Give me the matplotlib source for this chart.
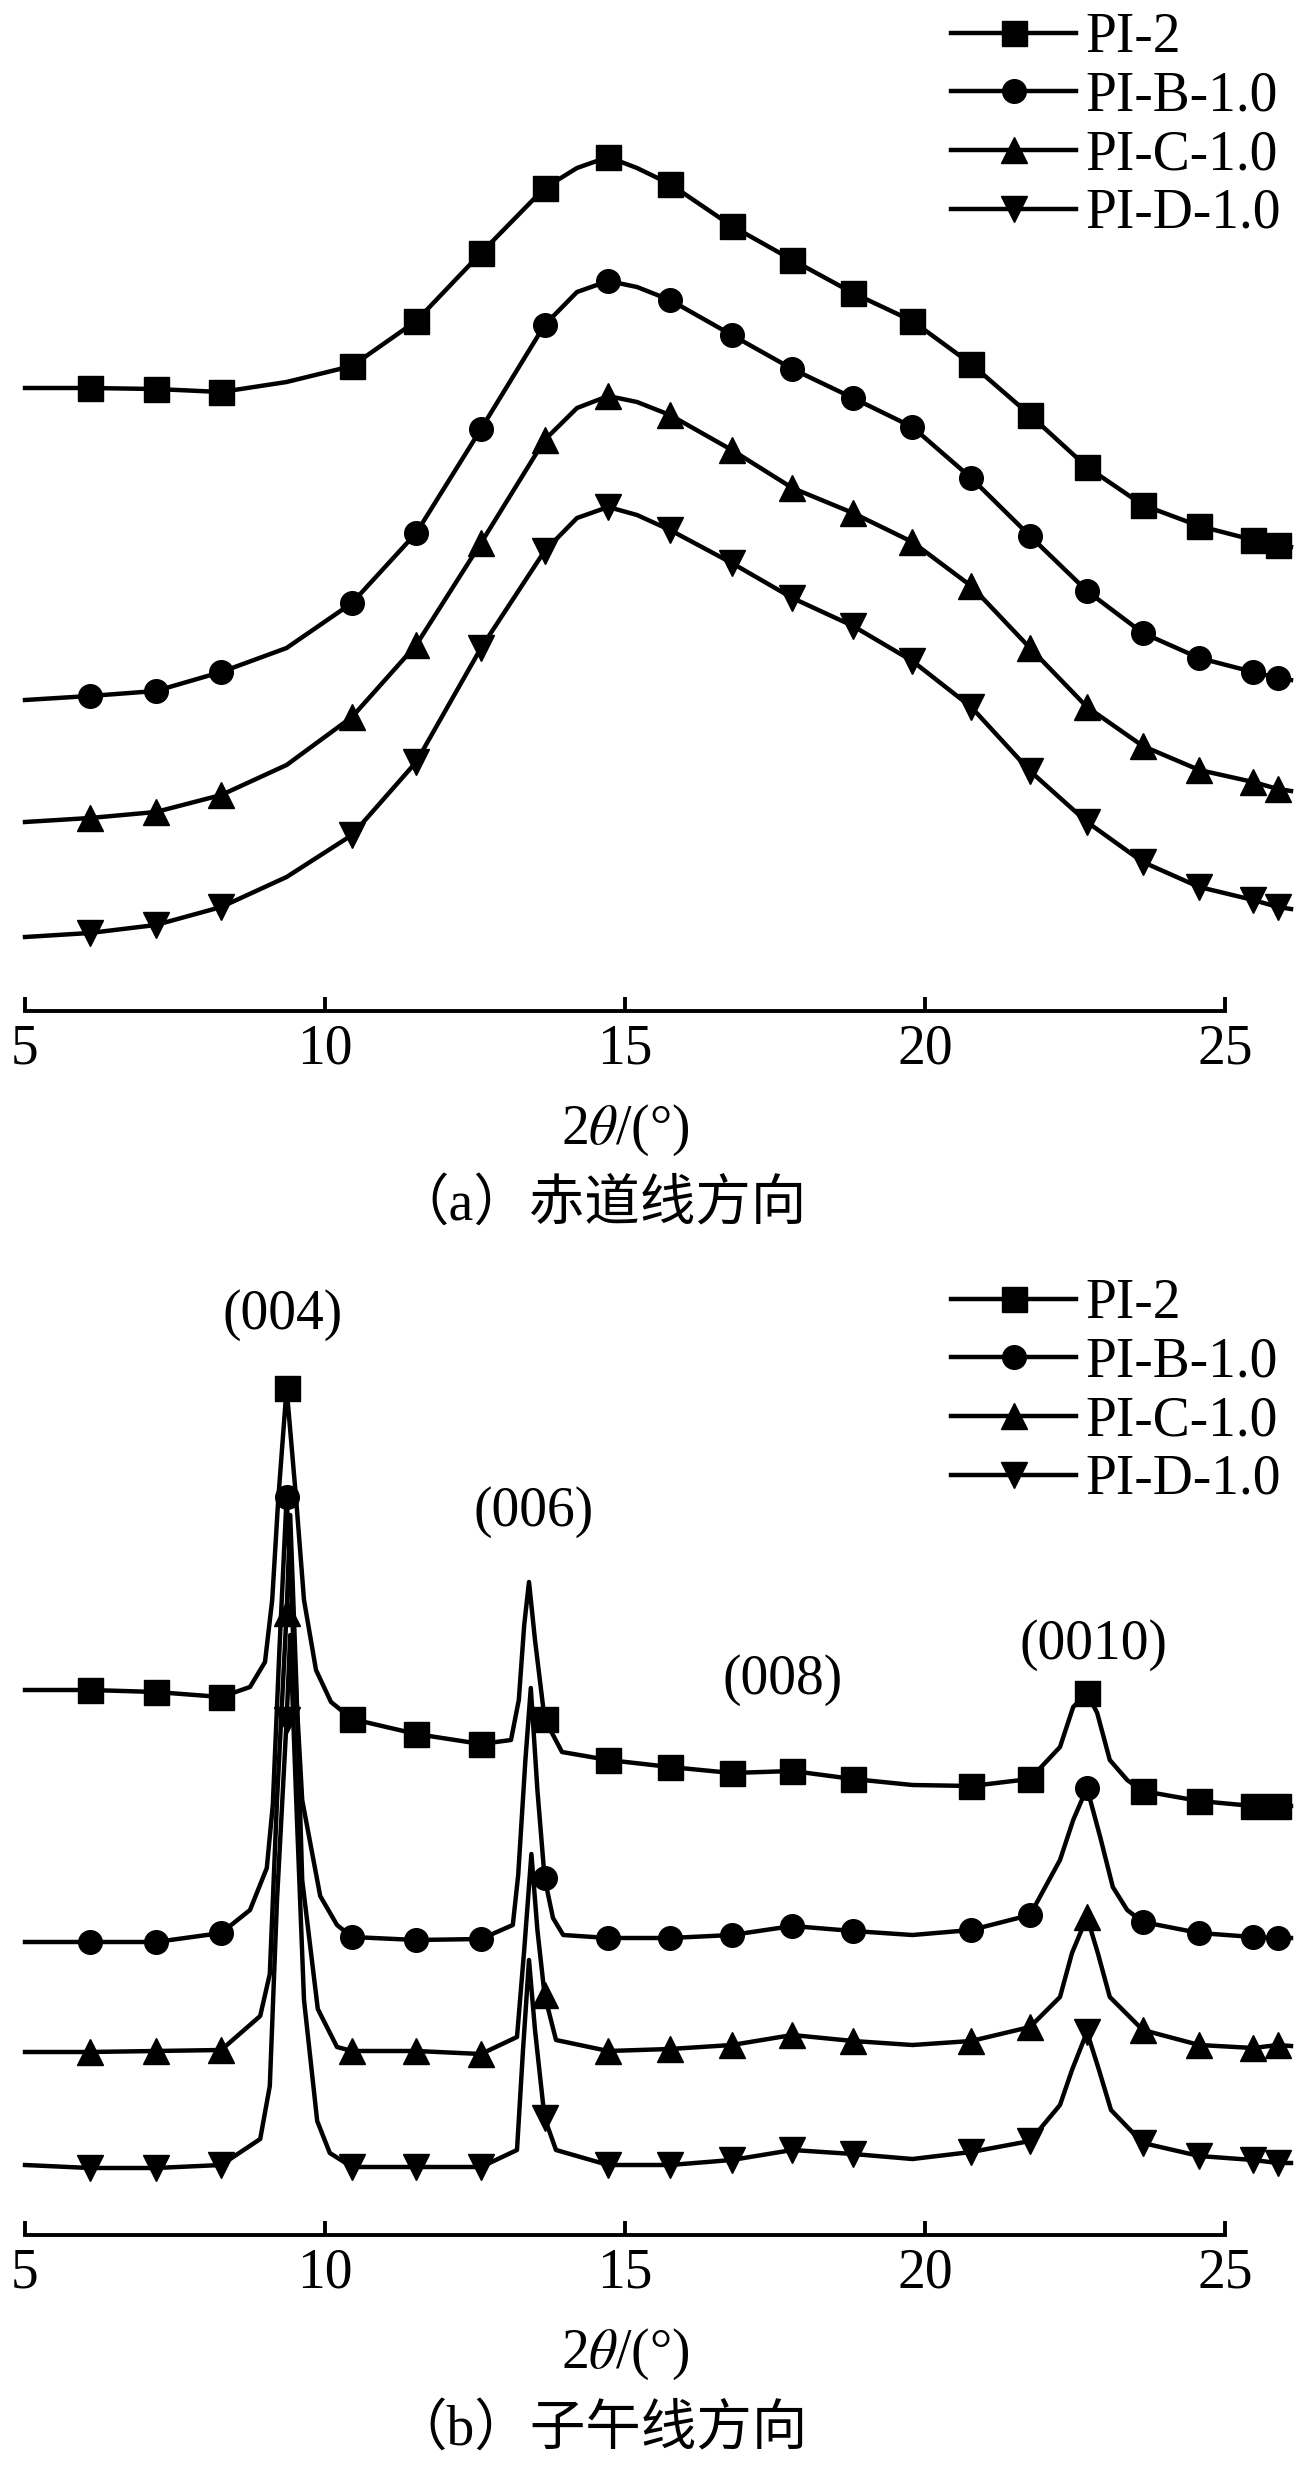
import matplotlib
matplotlib.use('Agg')
import matplotlib.pyplot as plt

plt.rcParams['font.family'] = ['Liberation Serif', 'Noto Sans CJK SC']
plt.rcParams['mathtext.fontset'] = 'stix'

labels = ['PI-2', 'PI-B-1.0', 'PI-C-1.0', 'PI-D-1.0']
markers = ['s', 'o', '^', 'v']
msizes = [18, 17, 19, 19]

# 2theta positions of the symbols
mk = [6.08, 7.18, 8.27, 9.36, 10.45, 11.52, 12.6, 13.66, 14.72, 15.75, 16.78,
      17.79, 18.8, 19.79, 20.77, 21.75, 22.7, 23.63, 24.57, 25.47, 25.88]
mk_a = [m for m in mk if m != 9.36]
mk_b = [m for m in mk if m != 19.79]

# (a) equatorial direction, stacked intensity (a.u.)
x_a = [5.0, 6.08, 7.18, 8.27, 9.36, 10.45, 11.52, 12.6, 13.66, 14.2, 14.72, 15.2,
       15.75, 16.78, 17.79, 18.8, 19.79, 20.77, 21.75, 22.7, 23.63, 24.57, 25.47,
       25.88, 26.1]
pi2_a = [623, 623, 622, 619, 629, 645, 690, 758, 823, 843, 854, 843, 827, 785, 751,
         718, 690, 647, 596, 544, 506, 485, 471, 466, 464]
pib_a = [311, 315, 320, 339, 363, 408, 478, 582, 686, 719, 730, 724, 711, 676, 642,
         613, 584, 533, 475, 420, 378, 353, 339, 333, 331]
pic_a = [189, 193, 199, 216, 246, 294, 366, 468, 571, 603, 615, 609, 596, 561, 523,
         498, 469, 425, 363, 304, 265, 241, 229, 222, 220]
pid_a = [74, 78, 86, 104, 134, 176, 249, 363, 460, 493, 504, 496, 481, 448, 413,
         385, 350, 304, 240, 189, 149, 124, 111, 104, 102]

# (b) meridional direction
x_pi2_b = [5.0, 6.08, 7.18, 8.27, 8.75, 9.0, 9.12, 9.22, 9.36, 9.52, 9.65, 9.85, 10.1,
           10.45, 11.52, 12.6, 13.1, 13.23, 13.32, 13.4, 13.5, 13.66, 13.95, 14.72,
           15.75, 16.78, 17.79, 18.8, 19.79, 20.77, 21.75, 22.25, 22.47, 22.7, 22.87,
           23.08, 23.37, 23.63, 24.57, 25.47, 25.88, 26.1]
pi2_b = [545, 545, 543, 538, 548, 573, 635, 735, 847, 735, 635, 565, 533, 516, 501,
         491, 495, 535, 610, 653, 595, 516, 483, 475, 468, 462, 464, 456, 450, 449,
         456, 488, 528, 542, 522, 475, 455, 444, 434, 429, 429, 429]

x_pib_b = [5.0, 6.08, 7.18, 8.27, 8.75, 9.03, 9.13, 9.24, 9.36, 9.48, 9.62, 9.92, 10.2,
           10.45, 11.52, 12.6, 13.13, 13.22, 13.34, 13.43, 13.54, 13.66, 13.8, 13.97,
           14.72, 15.75, 16.78, 17.79, 18.8, 19.79, 20.77, 21.75, 22.25, 22.47, 22.7,
           22.92, 23.13, 23.37, 23.63, 24.57, 25.47, 25.88, 26.1]
pib_b = [293, 293, 293, 302, 325, 367, 430, 585, 738, 585, 435, 339, 310, 298, 295,
         296, 310, 360, 475, 547, 445, 357, 317, 300, 297, 297, 300, 309, 304, 300,
         305, 320, 375, 415, 447, 398, 348, 325, 313, 302, 298, 297, 297]

x_pic_b = [5.0, 6.08, 7.18, 8.27, 8.92, 9.08, 9.2, 9.36, 9.42, 9.52, 9.62, 9.88, 10.2,
           10.45, 11.52, 12.6, 13.2, 13.32, 13.44, 13.54, 13.66, 13.85, 14.72, 15.75,
           16.78, 17.79, 18.8, 19.79, 20.77, 21.75, 22.25, 22.45, 22.7, 22.88, 23.08,
           23.63, 24.57, 25.47, 25.88, 26.1]
pic_b = [183, 183, 184, 185, 219, 261, 435, 622, 720, 555, 355, 226, 188, 184, 184,
         181, 198, 285, 381, 305, 240, 195, 184, 186, 190, 200, 194, 190, 194, 208,
         238, 282, 318, 282, 238, 205, 190, 187, 190, 189]

x_pid_b = [5.0, 6.08, 7.18, 8.27, 8.92, 9.08, 9.2, 9.36, 9.42, 9.52, 9.65, 9.87, 10.08,
           10.45, 11.52, 12.6, 13.2, 13.3, 13.4, 13.5, 13.66, 13.85, 14.72, 15.75,
           16.78, 17.79, 18.8, 19.79, 20.77, 21.75, 22.25, 22.45, 22.7, 22.9, 23.1,
           23.63, 24.57, 25.47, 25.88, 26.1]
pid_b = [70, 67, 67, 70, 96, 149, 335, 515, 600, 435, 235, 114, 82, 68, 68, 68, 85,
         185, 275, 205, 117, 85, 70, 70, 75, 85, 81, 76, 83, 94, 130, 165, 203, 165,
         125, 92, 79, 75, 72, 72]

peaks = ['(004)', '(006)', '(008)', '(0010)']
peak_x = [9.3, 13.47, 17.63, 22.8]
peak_y = [920, 723, 555, 590]

W, H = 1300, 2470
fig = plt.figure(figsize=(W / 100, H / 100), dpi=100)

ax1 = fig.add_axes([25 / W, 1 - 1011 / H, 1275 / W, 1011 / H])
ax2 = fig.add_axes([25 / W, 1 - 2235 / H, 1275 / W, 1000 / H])


def style(ax, ymax):
    ax.set_xlim(5, 26.25)
    ax.set_ylim(0, ymax)
    for s in ['top', 'right', 'left']:
        ax.spines[s].set_visible(False)
    ax.spines['bottom'].set_linewidth(2.8)
    ax.spines['bottom'].set_bounds(5, 25)
    ax.set_xticks([5, 10, 15, 20, 25])
    ax.set_yticks([])
    ax.tick_params(axis='x', direction='in', length=10, width=2.8, pad=9,
                   labelsize=40)
    ax.set_xlabel(r'2$\theta$/(°)', fontsize=40, va='center')
    ax.xaxis.set_label_coords(10 / 21.25, -119 / (ymax))
    ax.patch.set_visible(False)


series_a = [pi2_a, pib_a, pic_a, pid_a]
for i in range(4):
    idx = [x_a.index(m) for m in mk_a]
    ax1.plot(x_a, series_a[i], color='black', lw=3.2, marker=markers[i],
             ms=msizes[i], markevery=idx, label=labels[i], clip_on=False)

series_b = [(x_pi2_b, pi2_b), (x_pib_b, pib_b), (x_pic_b, pic_b), (x_pid_b, pid_b)]
for i in range(4):
    xs, ys = series_b[i]
    idx = [xs.index(m) for m in mk_b]
    ax2.plot(xs, ys, color='black', lw=3.2, marker=markers[i], ms=msizes[i],
             markevery=idx, label=labels[i], clip_on=False)

for t, px, py in zip(peaks, peak_x, peak_y):
    ax2.text(px, py, t, fontsize=40, ha='center', va='center')

style(ax1, 1011)
style(ax2, 1000)

leg_kw = dict(loc='upper left', frameon=False, fontsize=40, borderpad=0,
              borderaxespad=0, handlelength=2.25, handletextpad=0.16,
              labelspacing=0.12, numpoints=1)
ax1.legend(bbox_to_anchor=(951 / W, 1 - 12 / H), bbox_transform=fig.transFigure,
           **leg_kw)
ax2.legend(bbox_to_anchor=(951 / W, 1 - 1278 / H), bbox_transform=fig.transFigure,
           **leg_kw)

fig.text(600 / W, 1 - 1205 / H, '（a）赤道线方向', fontsize=40, ha='center',
         va='center')
fig.text(600 / W, 1 - 2430 / H, '（b）子午线方向', fontsize=40, ha='center',
         va='center')

fig.savefig('out.png', dpi=100)
